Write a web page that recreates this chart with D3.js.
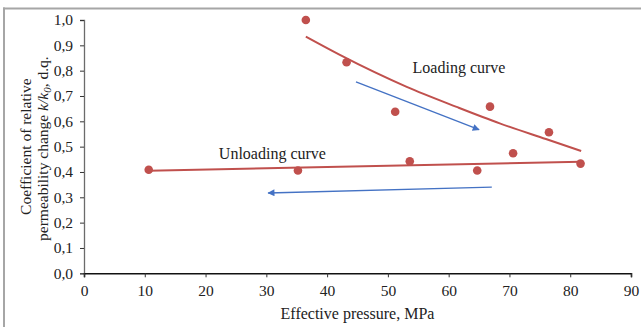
<!DOCTYPE html>
<html>
<head>
<meta charset="utf-8">
<script src="https://cdn.jsdelivr.net/npm/d3@7"></script>
<style>
  html, body { margin: 0; padding: 0; background: #fff; }
  svg { display: block; font-family: "Liberation Serif", "Times New Roman", serif; }
</style>
</head>
<body>
<svg id="chart" width="641" height="327"></svg>
<script>
// ---- data ----
const xTicks = [0, 10, 20, 30, 40, 50, 60, 70, 80, 90];
const yTicks = [0, 0.1, 0.2, 0.3, 0.4, 0.5, 0.6, 0.7, 0.8, 0.9, 1.0];

const loadingPressure = [36.5, 43.2, 51.2, 66.8, 76.5, 81.7];
const loadingK        = [1.0, 0.833, 0.638, 0.658, 0.557, 0.433];

const unloadingPressure = [10.65, 35.2, 53.6, 64.7, 70.6];
const unloadingK        = [0.409, 0.406, 0.442, 0.406, 0.474];

// trend lines
const loadingTrendX = [36.5, 42.1, 53.1, 61.3, 68.4, 76.0, 81.8];
const loadingTrendY = [0.934, 0.862, 0.736, 0.657, 0.592, 0.530, 0.483];
const unloadingTrendX = [10.65, 81.7];
const unloadingTrendY = [0.405, 0.440];

// direction arrows [x1, y1, x2, y2]
const loadArrow   = [44.75, 0.756, 65.0, 0.567];
const unloadArrow = [67.1, 0.340, 30.3, 0.317];

const labels = [
  { text: "Loading curve",   x: 61.7, y: 0.79 },
  { text: "Unloading curve", x: 31.0, y: 0.453 }
];

// ---- chart ----
const svg = d3.select("#chart");
const red = "#C0504D", blue = "#4472C4";

const x = d3.scaleLinear().domain([0, 90]).range([84, 631]);
const y = d3.scaleLinear().domain([0, 1]).range([273.3, 20]);

// frame
svg.append("line").attr("x1", 3).attr("x2", 641).attr("y1", 8.5).attr("y2", 8.5)
  .attr("stroke", "#A6A6A6").attr("stroke-width", 2);
svg.append("line").attr("x1", 4).attr("x2", 4).attr("y1", 7.5).attr("y2", 327)
  .attr("stroke", "#A6A6A6").attr("stroke-width", 2);

const fmt = d => d3.format(".1f")(d).replace(".", ",");

// y axis
const yAx = svg.append("g").attr("transform", `translate(${x(0)},0)`)
  .call(d3.axisLeft(y).tickValues(yTicks).tickFormat(fmt).tickSize(4).tickPadding(7));
yAx.select(".domain").attr("stroke", "#6b6b6b").attr("stroke-width", 1.3);
yAx.selectAll(".tick line").attr("stroke", "#333").attr("stroke-width", 1);
yAx.selectAll("text").attr("font-size", 15.5).attr("fill", "#222")
  .attr("font-family", "Liberation Serif");

// x axis
const xAx = svg.append("g").attr("transform", `translate(0,${y(0)})`)
  .call(d3.axisBottom(x).tickValues(xTicks).tickFormat(d3.format("d")).tickSize(4).tickPadding(8));
xAx.select(".domain").attr("stroke", "#111").attr("stroke-width", 1.6);
xAx.selectAll(".tick line").attr("stroke", "#333").attr("stroke-width", 1);
xAx.selectAll("text").attr("font-size", 15.5).attr("fill", "#222")
  .attr("font-family", "Liberation Serif");

// axis titles
svg.append("text").attr("x", (x(0) + x(90)) / 2).attr("y", 319)
  .attr("text-anchor", "middle").attr("font-size", 16).attr("fill", "#222")
  .text("Effective pressure, MPa");

const cy = (y(0) + y(1)) / 2;
svg.append("text").attr("transform", `translate(31,${cy}) rotate(-90)`)
  .attr("text-anchor", "middle").attr("font-size", 15.5).attr("fill", "#222")
  .text("Coefficient of relative");
const t2 = svg.append("text").attr("transform", `translate(48,${cy + 2}) rotate(-90)`)
  .attr("text-anchor", "middle").attr("font-size", 15.5).attr("fill", "#222");
t2.append("tspan").text("permeability change ");
t2.append("tspan").attr("font-style", "italic").text("k/k");
t2.append("tspan").attr("font-style", "italic").attr("font-size", 11).attr("dy", 3).text("0");
t2.append("tspan").attr("dy", -3).text(", d.q.");

// trend lines
const line = d3.line().x(d => x(d[0])).y(d => y(d[1])).curve(d3.curveMonotoneX);
svg.append("path").datum(d3.zip(loadingTrendX, loadingTrendY)).attr("d", line)
  .attr("fill", "none").attr("stroke", red).attr("stroke-width", 2);
svg.append("path").datum(d3.zip(unloadingTrendX, unloadingTrendY)).attr("d", line)
  .attr("fill", "none").attr("stroke", red).attr("stroke-width", 2);

// points
const pts = d3.zip(loadingPressure, loadingK).concat(d3.zip(unloadingPressure, unloadingK));
svg.append("g").selectAll("circle").data(pts).join("circle")
  .attr("cx", d => x(d[0])).attr("cy", d => y(d[1])).attr("r", 4.3).attr("fill", red);

// arrows
const defs = svg.append("defs");
defs.append("marker").attr("id", "ah").attr("viewBox", "0 0 10 10")
  .attr("refX", 9).attr("refY", 5).attr("markerWidth", 9).attr("markerHeight", 7)
  .attr("markerUnits", "userSpaceOnUse").attr("orient", "auto")
  .append("path").attr("d", "M0,0 L10,5 L0,10 Z").attr("fill", blue);
[loadArrow, unloadArrow].forEach(a => {
  svg.append("line").attr("x1", x(a[0])).attr("y1", y(a[1]))
    .attr("x2", x(a[2])).attr("y2", y(a[3]))
    .attr("stroke", blue).attr("stroke-width", 1.3).attr("marker-end", "url(#ah)");
});

// annotations
svg.append("g").selectAll("text").data(labels).join("text")
  .attr("x", d => x(d.x)).attr("y", d => y(d.y)).attr("text-anchor", "middle")
  .attr("font-size", 16).attr("fill", "#222").text(d => d.text);
</script>
</body>
</html>
